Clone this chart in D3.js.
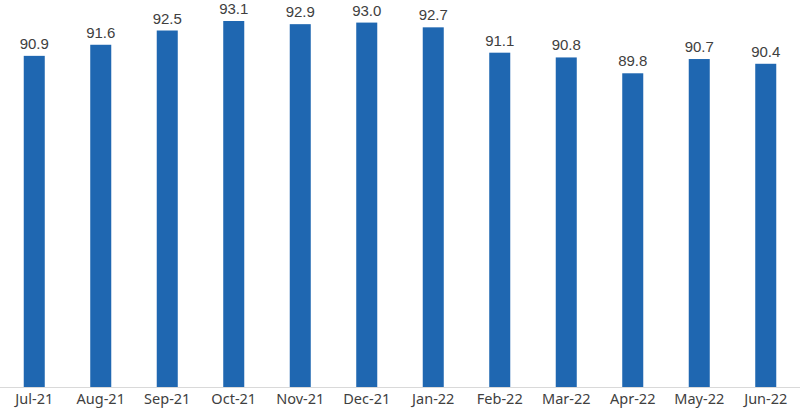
<!DOCTYPE html>
<html><head><meta charset="utf-8">
<script src="https://cdn.jsdelivr.net/npm/d3@7"></script>
<style>html,body{margin:0;padding:0;background:#fff;}svg{display:block;}</style>
</head><body>
<svg id="c" width="800" height="417"></svg>
<script>
const categories = ["Jul-21","Aug-21","Sep-21","Oct-21","Nov-21","Dec-21","Jan-22","Feb-22","Mar-22","Apr-22","May-22","Jun-22"];
const values = [90.9,91.6,92.5,93.1,92.9,93.0,92.7,91.1,90.8,89.8,90.7,90.4];
const yMin = 70;

const svg = d3.select("#c");
const x = d3.scaleBand().domain(categories).range([1, 799]).paddingInner(0.684).paddingOuter(0.342);
const y = d3.scaleLinear().domain([yMin, 93.1]).range([387, 21]);

svg.append("g").selectAll("rect").data(values).join("rect")
  .attr("x", (d,i) => x(categories[i]))
  .attr("y", d => y(d))
  .attr("width", x.bandwidth())
  .attr("height", d => y(yMin) - y(d))
  .attr("fill", "#1f67b1");

svg.append("g").selectAll("text").data(values).join("text")
  .attr("x", (d,i) => x(categories[i]) + x.bandwidth()/2)
  .attr("y", d => y(d) - 7)
  .attr("text-anchor", "middle")
  .attr("font-family", "'Liberation Sans', Arial, sans-serif")
  .attr("font-size", 15)
  .attr("fill", "#404040")
  .text(d => d.toFixed(1));

const ax = svg.append("g").attr("transform", "translate(0,387)")
  .call(d3.axisBottom(x).tickSize(0).tickPadding(7));
ax.select(".domain").attr("stroke", "#d9d9d9").attr("d", "M0,0.5H800");
ax.selectAll("text").attr("font-family", "'Noto Sans', 'Open Sans', sans-serif").attr("font-size", 14.5).attr("fill", "#404040");
</script>
</body></html>
